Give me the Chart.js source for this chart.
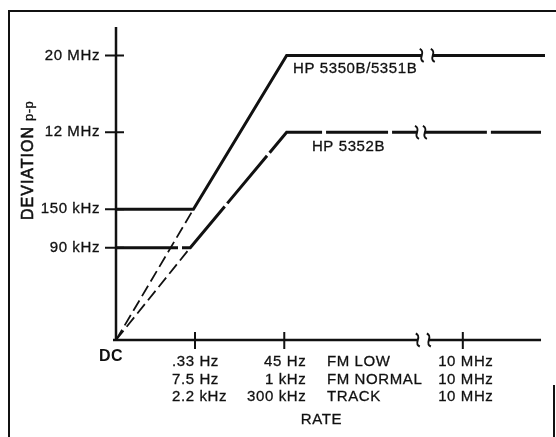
<!DOCTYPE html>
<html>
<head>
<meta charset="utf-8">
<script src="https://cdn.jsdelivr.net/npm/chart.js@4.4.1/dist/chart.umd.min.js"></script>
<style>
  html, body { margin: 0; padding: 0; background: #fff; }
  #wrap { position: relative; width: 556px; height: 437px; }
</style>
</head>
<body>
<div id="wrap"><canvas id="chart"></canvas></div>
<script>
// Schematic positions (the chart is not to scale)
const yTickValues = [1.2, 1.7, 2.7, 3.7];
const yTickLabels = ['90 kHz', '150 kHz', '12 MHz', '20 MHz'];

const xTickValues = [1.0, 2.13, 4.39];
const xTickLabels = [
  ['.33 Hz', '7.5 Hz', '2.2 kHz'],
  ['45 Hz', '1 kHz', '300 kHz'],
  ['10 MHz', '10 MHz', '10 MHz']
];
const xTickAlign = ['left', 'right', 'center'];
const modeLabels = ['FM LOW', 'FM NORMAL', 'TRACK'];
const modeLabelX = 2.67;

// HP 5350B/5351B (solid)
const upperX = [0, 0.98, 2.16, 3.87, 3.94, 4.01, 5.43];
const upperY = [1.7, 1.7, 3.7, 3.7, null, 3.7, 3.7];
// HP 5352B (long dashes)
const lowerX = [0, 0.94, 2.16, 3.81, 3.86, 3.91, 5.38];
const lowerY = [1.2, 1.2, 2.7, 2.7, null, 2.7, 2.7];
// dashed extensions back to DC
const extUpperX = [0, 0.98];
const extUpperY = [0, 1.7];
const extLowerX = [0, 0.94];
const extLowerY = [0, 1.2];

const axisBreak = [3.82, 3.96];
const xAxisEnd = 5.38;
const yAxisEnd = 4.07;

const seriesLabels = [
  { text: 'HP 5350B/5351B', x: 2.24, y: 3.53 },
  { text: 'HP 5352B', x: 2.48, y: 2.51 }
];

function toPoints(xs, ys) {
  return xs.map((x, i) => ({ x: x, y: ys[i] }));
}

const FONT = '"Liberation Sans", Arial, Helvetica, sans-serif';

// slightly heavier text, like the printed original
function text(ctx, s, x, y) {
  ctx.fillText(s, x, y);
  ctx.strokeText(s, x, y);
}

function squiggle(ctx, x, y, h) {
  ctx.beginPath();
  ctx.moveTo(x - 2, y - h / 2);
  ctx.bezierCurveTo(x + 5, y - h / 4, x - 5, y + h / 4, x + 2, y + h / 2);
  ctx.stroke();
}

// Draws frame, axes, ticks and all text using the chart's scales
const schematicAxes = {
  id: 'schematicAxes',
  afterDraw(chart) {
    const ctx = chart.ctx;
    const xs = chart.scales.x;
    const ys = chart.scales.y;
    const px = v => xs.getPixelForValue(v);
    const py = v => ys.getPixelForValue(v);
    const x0 = px(0), y0 = py(0);

    ctx.save();
    ctx.strokeStyle = '#111';
    ctx.fillStyle = '#111';
    ctx.lineCap = 'butt';

    // frame
    ctx.lineWidth = 2;
    ctx.beginPath();
    ctx.moveTo(9, 437); ctx.lineTo(9, 11); ctx.lineTo(556, 11);
    ctx.moveTo(554, 385); ctx.lineTo(554, 437);
    ctx.stroke();

    // axes
    ctx.lineWidth = 2.5;
    ctx.beginPath();
    ctx.moveTo(x0, py(yAxisEnd)); ctx.lineTo(x0, y0 + 1);
    ctx.moveTo(x0 - 3, y0); ctx.lineTo(px(axisBreak[0]), y0);
    ctx.moveTo(px(axisBreak[1]), y0); ctx.lineTo(px(xAxisEnd), y0);
    ctx.stroke();

    // break marks
    ctx.lineWidth = 2;
    squiggle(ctx, px(axisBreak[0]), y0, 13);
    squiggle(ctx, px(axisBreak[1]), y0, 13);
    squiggle(ctx, px(upperX[3]), py(3.7), 13);
    squiggle(ctx, px(upperX[5]), py(3.7), 13);
    squiggle(ctx, px(lowerX[3]), py(2.7), 13);
    squiggle(ctx, px(lowerX[5]), py(2.7), 13);

    // ticks
    ctx.lineWidth = 2;
    ctx.beginPath();
    yTickValues.forEach(v => {
      ctx.moveTo(x0 - 11, py(v)); ctx.lineTo(x0 + 8, py(v));
    });
    xTickValues.forEach(v => {
      ctx.moveTo(px(v), y0 - 8); ctx.lineTo(px(v), y0 + 9);
    });
    ctx.stroke();

    // tick labels
    ctx.lineWidth = 0.3;
    ctx.font = '15px ' + FONT;
    ctx.letterSpacing = '0.6px';
    ctx.textBaseline = 'middle';
    ctx.textAlign = 'right';
    yTickValues.forEach((v, i) => text(ctx, yTickLabels[i], x0 - 16, py(v)));

    xTickValues.forEach((v, i) => {
      const align = xTickAlign[i];
      const off = align === 'left' ? -23 : align === 'right' ? 22 : 3;
      ctx.textAlign = align;
      xTickLabels[i].forEach((t, j) => text(ctx, t, px(v) + off, y0 + 22 + j * 17.5));
    });
    ctx.textAlign = 'left';
    modeLabels.forEach((t, j) => text(ctx, t, px(modeLabelX), y0 + 22 + j * 17.5));

    // axis titles
    ctx.textAlign = 'center';
    text(ctx, 'RATE', px(2.6), y0 + 80);

    ctx.font = 'bold 16px ' + FONT;
    ctx.letterSpacing = '0.4px';
    ctx.fillText('DC', x0 - 5, y0 + 17);

    ctx.save();
    ctx.translate(33, 220);
    ctx.rotate(-Math.PI / 2);
    ctx.textAlign = 'left';
    ctx.textBaseline = 'alphabetic';
    ctx.font = '16px ' + FONT;
    ctx.letterSpacing = '1px';
    ctx.lineWidth = 0.6;
    text(ctx, 'DEVIATION', 0, 0);
    const w = ctx.measureText('DEVIATION').width;
    ctx.font = '13px ' + FONT;
    ctx.letterSpacing = '0.5px';
    ctx.lineWidth = 0.3;
    text(ctx, 'p-p', w + 5, 0);
    ctx.restore();

    // series labels
    ctx.font = '15px ' + FONT;
    ctx.letterSpacing = '0.6px';
    ctx.lineWidth = 0.3;
    ctx.textAlign = 'left';
    ctx.textBaseline = 'middle';
    seriesLabels.forEach(l => text(ctx, l.text, px(l.x), py(l.y)));

    ctx.restore();
  }
};

new Chart(document.getElementById('chart'), {
  type: 'scatter',
  data: {
    datasets: [
      {
        label: 'HP 5350B/5351B',
        data: toPoints(upperX, upperY),
        showLine: true, spanGaps: false,
        borderColor: '#111', borderWidth: 3,
        pointRadius: 0, clip: false
      },
      {
        label: 'HP 5352B',
        data: toPoints(lowerX, lowerY),
        showLine: true, spanGaps: false,
        borderColor: '#111', borderWidth: 3,
        borderDash: [62, 4],
        pointRadius: 0, clip: false
      },
      {
        label: 'ext upper',
        data: toPoints(extUpperX, extUpperY),
        showLine: true,
        borderColor: '#111', borderWidth: 1.8,
        borderDash: [12, 5],
        pointRadius: 0, clip: false
      },
      {
        label: 'ext lower',
        data: toPoints(extLowerX, extLowerY),
        showLine: true,
        borderColor: '#111', borderWidth: 1.8,
        borderDash: [12, 5],
        pointRadius: 0, clip: false
      }
    ]
  },
  options: {
    responsive: true,
    maintainAspectRatio: false,
    animation: false,
    layout: { padding: { left: 116, right: 5.5, top: 17, bottom: 97 } },
    scales: {
      x: { type: 'linear', min: 0, max: 5.5, display: false },
      y: { type: 'linear', min: 0, max: 4.2, display: false }
    },
    plugins: {
      legend: { display: false },
      tooltip: { enabled: false }
    }
  },
  plugins: [schematicAxes]
});
</script>
</body>
</html>
